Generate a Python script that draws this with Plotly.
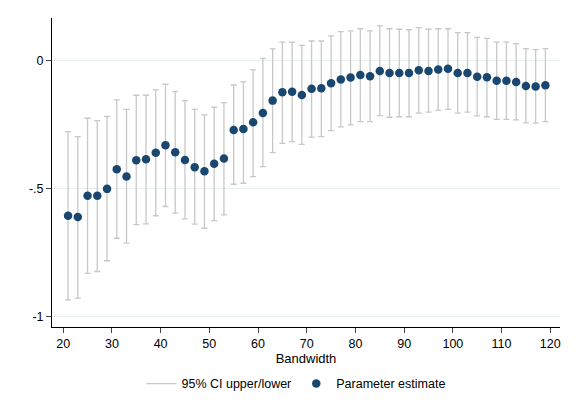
import plotly.graph_objects as go

bandwidth = list(range(21, 120, 2))
estimate = [-0.605, -0.61, -0.527, -0.527, -0.50, -0.423, -0.452, -0.388, -0.384, -0.359,
            -0.329, -0.357, -0.387, -0.415, -0.431, -0.402, -0.381, -0.27, -0.266, -0.24,
            -0.203, -0.155, -0.122, -0.12, -0.133, -0.109, -0.107, -0.087, -0.072, -0.065,
            -0.055, -0.06, -0.039, -0.047, -0.047, -0.047, -0.036, -0.039, -0.033, -0.03,
            -0.047, -0.047, -0.062, -0.064, -0.077, -0.077, -0.082, -0.098, -0.10, -0.095]
upper = [-0.276, -0.296, -0.224, -0.233, -0.217, -0.152, -0.189, -0.134, -0.134, -0.113,
         -0.091, -0.12, -0.155, -0.189, -0.211, -0.181, -0.163, -0.094, -0.082, -0.035,
         0.01, 0.047, 0.074, 0.074, 0.061, 0.078, 0.078, 0.098, 0.115, 0.118,
         0.126, 0.118, 0.137, 0.126, 0.124, 0.122, 0.13, 0.124, 0.126, 0.126,
         0.111, 0.111, 0.092, 0.088, 0.074, 0.074, 0.068, 0.048, 0.044, 0.048]
lower = [-0.934, -0.927, -0.83, -0.823, -0.781, -0.693, -0.712, -0.64, -0.637, -0.605,
         -0.569, -0.595, -0.617, -0.638, -0.654, -0.624, -0.602, -0.482, -0.478, -0.452,
         -0.413, -0.358, -0.322, -0.315, -0.326, -0.298, -0.296, -0.272, -0.258, -0.25,
         -0.237, -0.237, -0.214, -0.22, -0.218, -0.218, -0.204, -0.2, -0.193, -0.189,
         -0.204, -0.2, -0.215, -0.218, -0.228, -0.228, -0.23, -0.242, -0.243, -0.237]

mid = [(u + l) / 2 for u, l in zip(upper, lower)]
half = [(u - l) / 2 for u, l in zip(upper, lower)]
ci_color = "#c8c8c8"
dot_color = "#1a476f"

fig = go.Figure()
fig.add_trace(go.Scatter(
    x=bandwidth, y=mid, mode="markers", marker=dict(size=1, opacity=0),
    error_y=dict(type="data", array=half, visible=True, color=ci_color, thickness=1.3, width=3),
    showlegend=False, hoverinfo="skip"))
fig.add_trace(go.Scatter(x=[None], y=[None], mode="lines", line=dict(color=ci_color, width=1.3),
                         name="95% CI upper/lower"))
fig.add_trace(go.Scatter(x=bandwidth, y=estimate, mode="markers",
                         marker=dict(color=dot_color, size=8.5), name="Parameter estimate"))

fig.update_layout(
    width=576, height=420, paper_bgcolor="white", plot_bgcolor="white",
    margin=dict(l=44, r=24, t=10, b=101, autoexpand=False),
    font=dict(family="Liberation Sans, Arial", size=12.5, color="black"),
    xaxis=dict(range=[17.7, 122], tickvals=list(range(20, 121, 10)), showgrid=False,
               showline=True, linecolor="black", ticks="outside", ticklen=5, zeroline=False,
               automargin=False, title=dict(text="Bandwidth", standoff=0, font=dict(size=13))),
    yaxis=dict(range=[-1.04, 0.168], tickvals=[0, -0.5, -1], ticktext=["0", "-.5", "-1"],
               showgrid=True, gridcolor="#e8efef", showline=True, linecolor="black",
               ticks="outside", ticklen=5, zeroline=False, automargin=False),
    legend=dict(orientation="h", x=0.5, xanchor="center", xref="container",
                y=0.105, yanchor="middle", yref="container", font=dict(size=12.5)),
)
fig.write_html("out.html")
